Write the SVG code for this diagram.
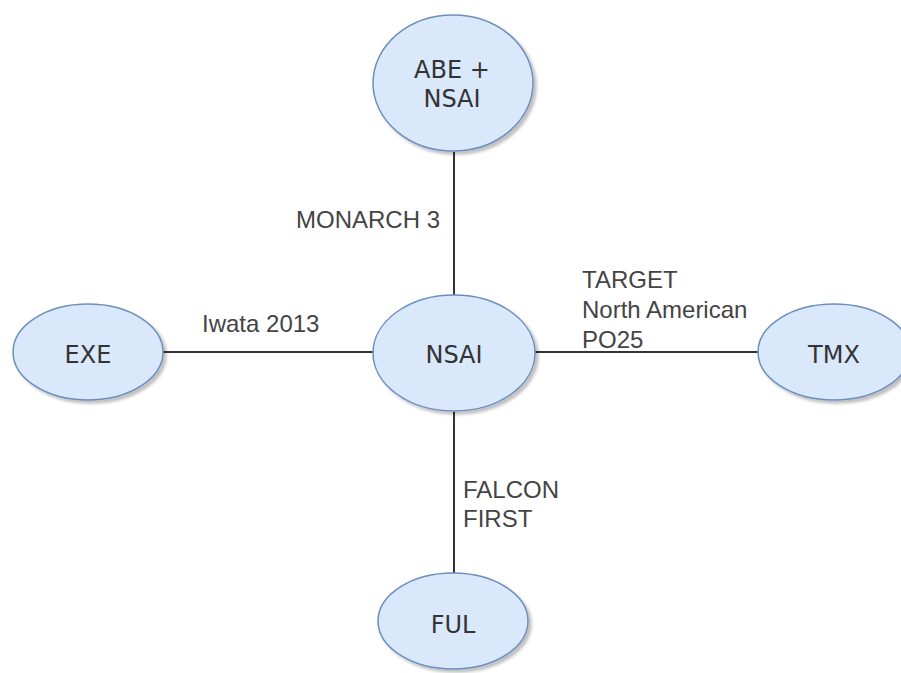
<svg xmlns="http://www.w3.org/2000/svg" width="901" height="673" viewBox="0 0 901 673">
<defs>
<filter id="sh" x="-20%" y="-20%" width="150%" height="150%">
<feGaussianBlur in="SourceAlpha" stdDeviation="1.5"/>
<feOffset dx="3" dy="3" result="o"/>
<feComponentTransfer><feFuncA type="linear" slope="0.25"/></feComponentTransfer>
<feMerge><feMergeNode/><feMergeNode in="SourceGraphic"/></feMerge>
</filter>
</defs>
<style>
.n{fill:#dae8fc;stroke:#6c8ebf;stroke-width:1.5;filter:url(#sh)}
.nt{font-family:"DejaVu Sans",sans-serif;font-size:24px;fill:#333;text-anchor:middle}
.e{stroke:#333;stroke-width:2;fill:none}
.l{font-family:"Liberation Sans",Arial,sans-serif;font-size:24px;fill:#444}
</style>
<rect width="901" height="673" fill="#fff"/>
<g id="edges">
<line class="e" x1="454" y1="152" x2="454" y2="295"/>
<line class="e" x1="163" y1="352" x2="373" y2="352"/>
<line class="e" x1="535" y1="352" x2="758" y2="352"/>
<line class="e" x1="454" y1="412" x2="454" y2="573"/>
<text class="l" x="296" y="228">MONARCH 3</text>
<text class="l" x="202" y="332">Iwata 2013</text>
<text class="l" x="582" y="288">TARGET</text>
<text class="l" x="582" y="318">North American</text>
<text class="l" x="582" y="348">PO25</text>
<text class="l" x="463" y="498">FALCON</text>
<text class="l" x="463" y="527">FIRST</text>
</g>
<g id="abe">
<ellipse class="n" cx="453" cy="83" rx="80" ry="68"/>
<text class="nt" x="452" y="78">ABE +</text>
<text class="nt" x="452" y="107">NSAI</text>
</g>
<g id="nsai">
<ellipse class="n" cx="454" cy="353" rx="81" ry="58"/>
<text class="nt" x="454" y="363">NSAI</text>
</g>
<g id="exe">
<ellipse class="n" cx="88" cy="352" rx="75" ry="48"/>
<text class="nt" x="88" y="363">EXE</text>
</g>
<g id="tmx">
<ellipse class="n" cx="834" cy="352" rx="76" ry="48"/>
<text class="nt" x="834" y="363">TMX</text>
</g>
<g id="ful">
<ellipse class="n" cx="453" cy="621" rx="75" ry="48"/>
<text class="nt" x="453" y="633">FUL</text>
</g>
</svg>
